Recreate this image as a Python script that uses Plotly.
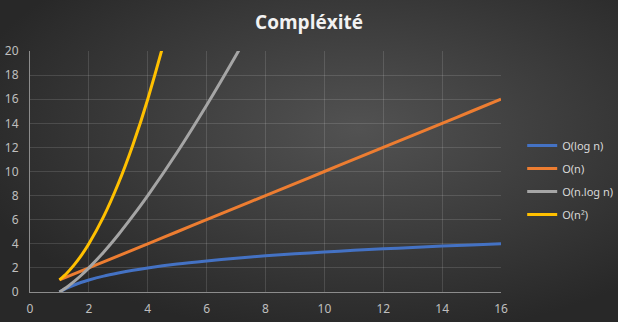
import base64
import plotly.graph_objects as go

# data
n_values = [1, 1.25, 1.5, 1.75, 2, 2.5, 3, 3.5, 4, 5, 6, 7, 8, 9, 10, 11, 12, 13, 14, 15, 16]
log_n = [0, 0.32, 0.58, 0.81, 1, 1.32, 1.58, 1.81, 2, 2.32, 2.58, 2.81, 3, 3.17, 3.32, 3.46, 3.58, 3.7, 3.81, 3.91, 4]
lin_n = [1, 1.25, 1.5, 1.75, 2, 2.5, 3, 3.5, 4, 5, 6, 7, 8, 9, 10, 11, 12, 13, 14, 15, 16]
n_log_n = [0, 0.4, 0.88, 1.41, 2, 3.3, 4.75, 6.33, 8, 11.6, 15.5, 19.65, 24, 28.5, 33.2, 38.05, 43.0, 48.1, 53.3, 58.6, 64]
n_sq = [1, 1.56, 2.25, 3.06, 4, 6.25, 9, 12.25, 16, 25, 36, 49, 64, 81, 100, 121, 144, 169, 196, 225, 256]

series_names = ["O(log n)", "O(n)", "O(n.log n)", "O(n²)"]
series_values = [log_n, lin_n, n_log_n, n_sq]
series_colors = ["#4472C4", "#ED7D31", "#A5A5A5", "#FFC000"]

x_ticks = [0, 2, 4, 6, 8, 10, 12, 14, 16]
y_ticks = [0, 2, 4, 6, 8, 10, 12, 14, 16, 18, 20]

svg = """<svg xmlns='http://www.w3.org/2000/svg' width='618' height='322' preserveAspectRatio='none'>
<defs><radialGradient id='g' cx='58%' cy='40%' r='65%'>
<stop offset='0%' stop-color='#525252'/>
<stop offset='100%' stop-color='#282828'/>
</radialGradient></defs>
<rect width='618' height='322' fill='url(#g)'/></svg>"""
bg_src = "data:image/svg+xml;base64," + base64.b64encode(svg.encode()).decode()

fig = go.Figure()
for name, vals, col in zip(series_names, series_values, series_colors):
    fig.add_trace(go.Scatter(x=n_values, y=vals, name=name, mode="lines", legendgroup=name,
                             line=dict(color=col, width=3, shape="spline", smoothing=0.8)))

fig.update_layout(
    width=618, height=322,
    margin=dict(l=30, r=117, t=51, b=30, autoexpand=False),
    paper_bgcolor="#333333",
    plot_bgcolor="rgba(0,0,0,0)",
    font=dict(family="Noto Sans, Open Sans, sans-serif", color="#D9D9D9", size=11),
    title=dict(text="<b>Compléxité</b>", x=0.5, xref="container", xanchor="center",
               y=0.93, yanchor="middle",
               font=dict(size=19, color="#F2F2F2", family="Open Sans, Noto Sans, sans-serif")),
    images=[dict(source=bg_src, xref="paper", yref="paper", x=-30/471, y=1+51/241,
                 sizex=618/471, sizey=322/241, sizing="stretch", layer="below",
                 xanchor="left", yanchor="top")],
    legend=dict(x=1.045, y=0.465, xanchor="left", yanchor="middle", bgcolor="rgba(0,0,0,0)",
                font=dict(size=11, color="#D9D9D9"), tracegroupgap=4, itemwidth=30),
    showlegend=True,
)
fig.update_xaxes(range=[0, 16], tickvals=x_ticks, showgrid=True, gridcolor="rgba(255,255,255,0.13)",
                 gridwidth=1, showline=True, linecolor="#8C8C8C", linewidth=1, zeroline=False,
                 ticks="", ticklabelstandoff=6, tickfont=dict(color="#BFBFBF", size=12), fixedrange=True)
fig.update_yaxes(range=[0, 20], tickvals=y_ticks, showgrid=True, gridcolor="rgba(255,255,255,0.13)",
                 gridwidth=1, showline=True, linecolor="#8C8C8C", linewidth=1, zeroline=False,
                 ticks="", ticklabelstandoff=8, tickfont=dict(color="#BFBFBF", size=12), fixedrange=True)

fig.write_html("out.html")
